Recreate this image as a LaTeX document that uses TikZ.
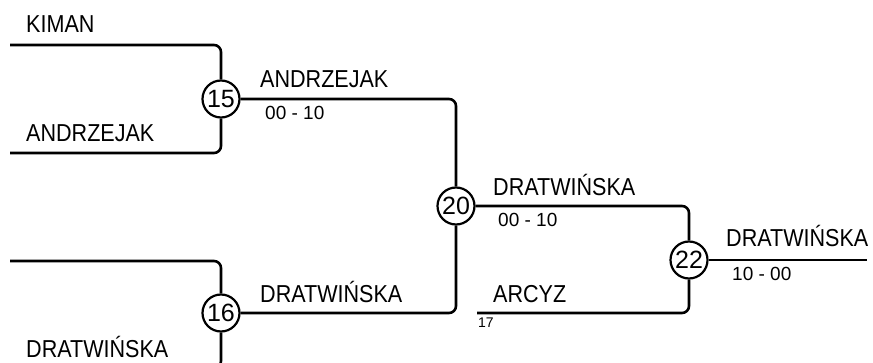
\documentclass[tikz,border=0pt]{standalone}
\usepackage{fontspec}
\setmainfont{Liberation Sans}
\newfontfamily\nomfont{Liberation Sans}[FakeStretch=0.88]
\usetikzlibrary{positioning}

\begin{document}
\begin{tikzpicture}[x=1pt,y=-1pt,
	trait/.style={line width=2.6pt,rounded corners=7pt},
	match/.style={circle,draw,line width=2.2pt,minimum size=37pt,inner sep=0pt,
		fill=white,font=\fontsize{25}{25}\selectfont},
	nom/.style={anchor=base west,inner sep=0pt,font=\nomfont\fontsize{24.5}{24}\selectfont},
	score/.style={anchor=base west,inner sep=0pt,font=\fontsize{19}{19}\selectfont}]
	\clip (0,0) rectangle (873,363);
	
	% premier tour
	\coordinate (kiman) at (10,45);
	\coordinate (andrzejak) at (10,153);
	\coordinate (vide) at (10,261);
	\coordinate (dratwinska) at (10,368);
	\coordinate (arcyz) at (477,313);
	\coordinate (fin) at (867,260);
	
	\node[match] (match15) at (221,99) {15};
	\node[match] (match16) at (221,313) {16};
	\node[match] (match20) at (456,206) {20};
	\node[match] (match22) at (689,260) {22};
	
	\node[nom] (nomkiman) at (26,33) {KIMAN};
	\node[nom] (nomandrzejak) at (26,142) {ANDRZEJAK};
	\node[nom] (nomdratwinska) at (26,357) {DRATWIŃSKA};
	
	\node[nom] (gagnant15) at (260,88) {ANDRZEJAK};
	\node[score] (score15) at (265,120) {00 - 10};
	\node[nom] (gagnant16) at (260,303) {DRATWIŃSKA};
	\node[nom] (gagnant20) at (493,196) {DRATWIŃSKA};
	\node[score] (score20) at (498,227) {00 - 10};
	\node[nom] (nomarcyz) at (493,303) {ARCYZ};
	\node[score,font=\fontsize{14}{14}\selectfont] (seed17) at (478,328) {17};
	\node[nom] (gagnant22) at (726,247) {DRATWIŃSKA};
	\node[score] (score22) at (732,281) {10 - 00};
	
	\draw[trait] (kiman) -| (match15);
	\draw[trait] (andrzejak) -| (match15);
	\draw[trait] (vide) -| (match16);
	\draw[trait] (dratwinska) -| (match16);
	\draw[trait] (match15) -| (match20);
	\draw[trait] (match16) -| (match20);
	\draw[trait] (match20) -| (match22);
	\draw[trait] (arcyz) -| (match22);
	\draw[trait] (match22) -- (fin);
\end{tikzpicture}
\end{document}
